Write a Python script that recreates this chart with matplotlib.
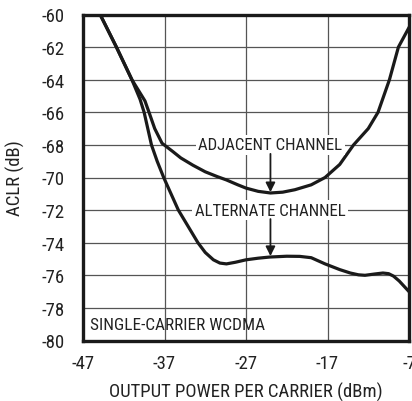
import matplotlib
matplotlib.use("Agg")
import matplotlib.pyplot as plt

# ACLR vs output power per carrier, single-carrier WCDMA
adj_x = [-44.9, -42.9, -41.0, -39.4, -38.9, -38.2, -37.3, -36.0, -35.0, -33.5, -32.0, -30.5,
         -29.4, -28.0, -27.0, -25.5, -24.0, -22.5, -21.0, -19.0, -17.3, -15.5, -13.8,
         -12.0, -10.8, -9.4, -8.3, -7.0]
adj_y = [-60.0, -62.0, -64.0, -65.3, -66.0, -67.0, -67.9, -68.4, -68.8, -69.25, -69.65, -69.95,
         -70.15, -70.45, -70.65, -70.85, -70.95, -70.9, -70.75, -70.45, -70.0, -69.2, -68.0,
         -67.0, -66.0, -64.0, -62.0, -60.8]

alt_x = [-44.9, -42.9, -41.0, -40.0, -39.5, -38.6, -37.9, -37.1, -36.2, -35.3, -34.1, -32.9,
         -32.0, -31.0, -30.2, -29.4, -28.3, -27.0, -25.5, -24.1, -22.0, -20.4, -19.0, -17.3,
         -15.5, -14.2, -13.2, -12.4, -11.2, -10.2, -9.5, -8.9, -8.2, -7.0]
alt_y = [-60.0, -62.0, -64.0, -65.2, -66.0, -68.0, -69.0, -70.0, -71.0, -72.0, -73.0, -74.0,
         -74.6, -75.05, -75.25, -75.3, -75.2, -75.05, -74.95, -74.88, -74.83, -74.84, -74.92,
         -75.3, -75.65, -75.86, -75.97, -76.0, -75.92, -75.86, -75.9, -76.05, -76.35, -77.0]

x_ticks = [-47, -37, -27, -17, -7]
y_ticks = list(range(-80, -58, 2))

plt.rcParams['font.family'] = ['Roboto Condensed', 'DejaVu Sans']
plt.rcParams['axes.unicode_minus'] = False

fig = plt.figure(figsize=(4.12, 4.02), dpi=100)
ax = fig.add_axes([83/412, 1 - 341.5/402, 326/412, 326/402])

ax.plot(adj_x, adj_y, color='#1a1a1a', lw=2.3, solid_joinstyle='round', zorder=3)
ax.plot(alt_x, alt_y, color='#1a1a1a', lw=2.3, solid_joinstyle='round', zorder=3)

ax.set_xlim(-47, -7)
ax.set_ylim(-80, -60)
ax.set_xticks(x_ticks)
ax.set_yticks(y_ticks)
ax.tick_params(length=0, labelsize=13.5, colors='#222222')
ax.tick_params(axis='y', pad=13)
ax.tick_params(axis='x', pad=10)
ax.grid(True, color='#555555', lw=0.9)
ax.set_axisbelow(True)
for s in ax.spines.values():
    s.set_linewidth(2.4)
    s.set_color('#1a1a1a')

ax.set_xlabel('OUTPUT POWER PER CARRIER (dBm)', fontsize=13.5, color='#222222')
ax.set_ylabel('ACLR (dB)', fontsize=13.5, color='#222222')
ax.xaxis.set_label_coords(0.5, -0.126)
ax.yaxis.set_label_coords(-0.178, 0.5)

box = dict(facecolor='white', edgecolor='none', pad=2)
ax.text(-24.0, -68.0, 'ADJACENT CHANNEL', fontsize=12.2, ha='center', va='center',
        color='#222222', bbox=box, zorder=4)
ax.annotate('', xy=(-24.0, -70.9), xytext=(-24.0, -68.55),
            arrowprops=dict(arrowstyle='-|>', color='#1a1a1a', lw=1.3,
                            mutation_scale=14, shrinkA=0, shrinkB=0), zorder=4)
ax.text(-24.0, -72.0, 'ALTERNATE CHANNEL', fontsize=12.2, ha='center', va='center',
        color='#222222', bbox=box, zorder=4)
ax.annotate('', xy=(-24.0, -74.82), xytext=(-24.0, -72.55),
            arrowprops=dict(arrowstyle='-|>', color='#1a1a1a', lw=1.3,
                            mutation_scale=14, shrinkA=0, shrinkB=0), zorder=4)
ax.text(-46.1, -79.0, 'SINGLE-CARRIER WCDMA', fontsize=12.4, ha='left', va='center',
        color='#222222', zorder=4)

fig.savefig('out.png', dpi=100)
